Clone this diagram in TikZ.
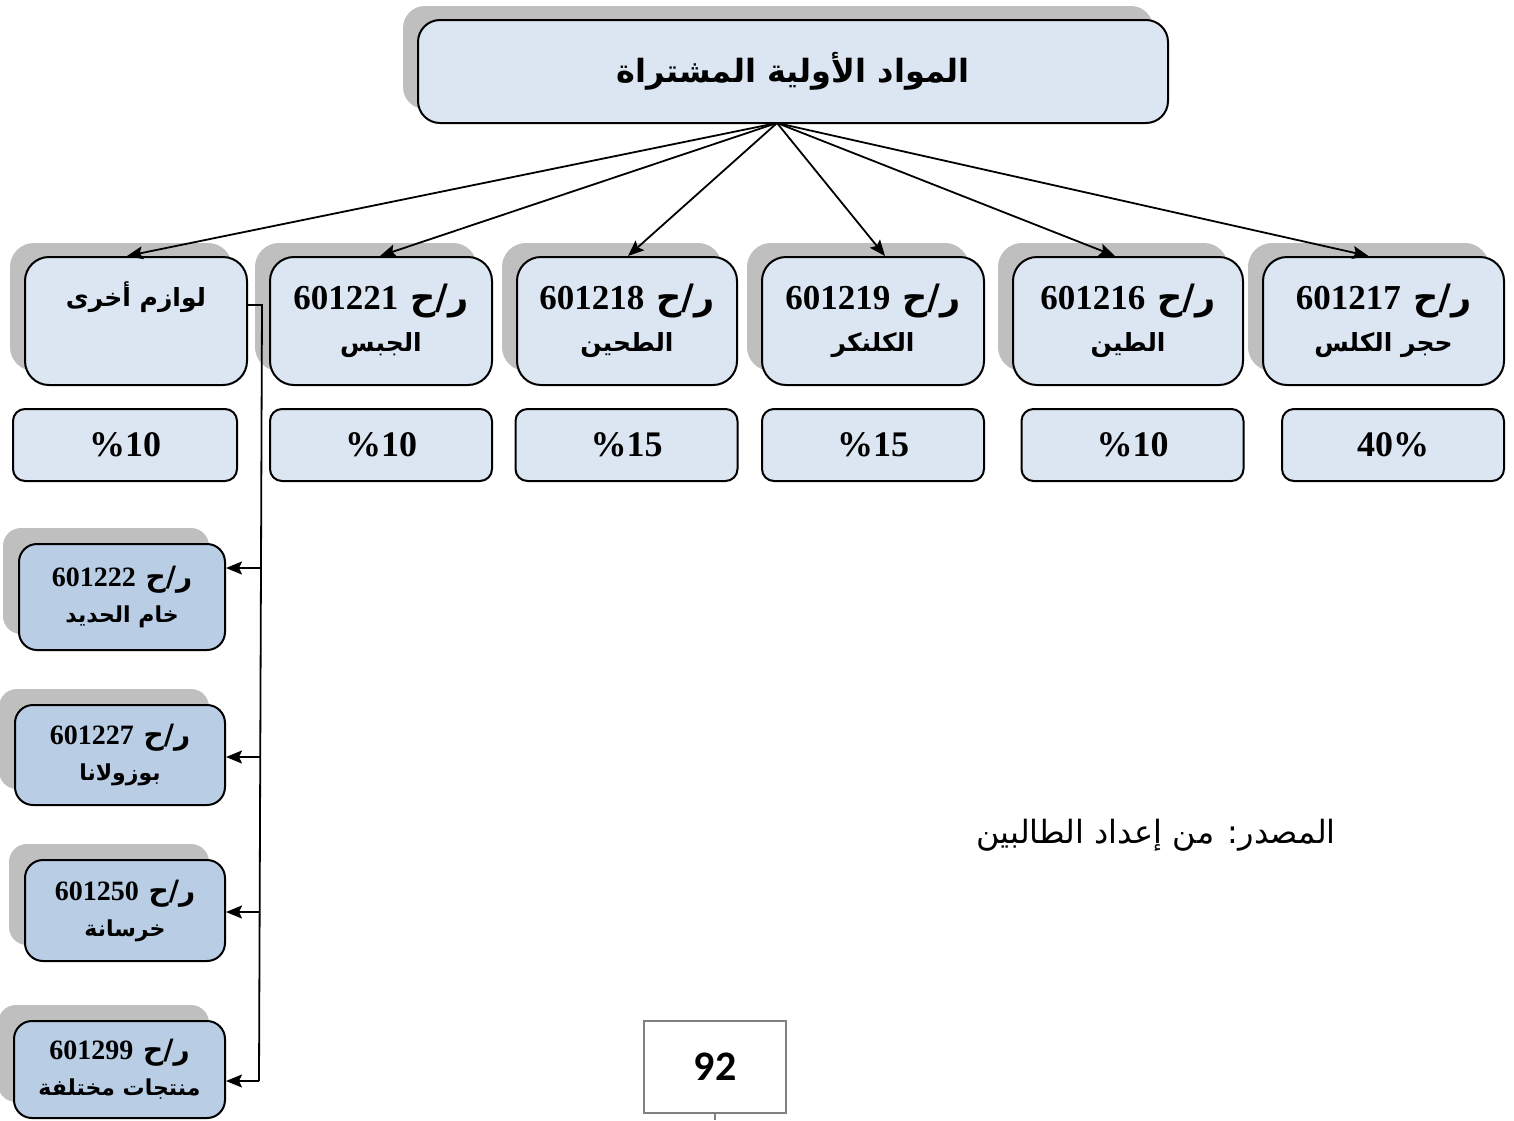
\documentclass[tikz,border=0pt]{standalone}
\usepackage{fontspec}
\TeXXeTstate=1
\newfontfamily\arabicfont[Script=Arabic]{DejaVu Sans}
\newfontfamily\numfont{Liberation Serif}
\newfontfamily\pagefont{Carlito}
\usetikzlibrary{arrows.meta,shadows}
\definecolor{lightfill}{HTML}{DCE6F2}
\definecolor{darkfill}{HTML}{B9CDE5}
\definecolor{shadowgray}{HTML}{BFBFBF}
\definecolor{pagegray}{HTML}{808080}
\newcommand{\ar}[1]{{\arabicfont\bfseries\beginR #1\endR}}
\newcommand{\code}[1]{{\arabicfont\bfseries\beginR ر/ح \beginL{\numfont\bfseries #1}\endL\endR}}
\newcommand{\rowar}[1]{{\fontsize{12.5}{21}\selectfont\ar{#1}}}
\newcommand{\subar}[1]{{\fontsize{11}{18}\selectfont\ar{#1}}}
\begin{document}
\begin{tikzpicture}[x=0.5pt,y=-0.5pt,
  shad/.style={drop shadow={shadow xshift=-7.5pt,shadow yshift=7pt,fill=shadowgray,opacity=1}},
  topbox/.style={draw,line width=1pt,fill=lightfill,rounded corners=11pt,inner sep=0pt,
     minimum width=375pt,minimum height=51.5pt,shad,font=\fontsize{16}{20}\selectfont},
  itembox/.style={draw,line width=1pt,fill=lightfill,rounded corners=12pt,inner sep=0pt,
     minimum height=64pt,align=center,shad,font=\fontsize{17.5}{21}\selectfont},
  pctbox/.style={draw,line width=1pt,fill=lightfill,rounded corners=6pt,inner sep=0pt,
     minimum height=36pt,minimum width=111pt,font=\numfont\bfseries\fontsize{18}{21}\selectfont},
  subbox/.style={draw,line width=1pt,fill=darkfill,rounded corners=9pt,inner sep=0pt,
     align=center,font=\fontsize{14}{18}\selectfont,
     drop shadow={shadow xshift=-8pt,shadow yshift=8pt,fill=shadowgray,opacity=1}},
  arr/.style={line width=0.9pt,-{Stealth[length=8pt,width=6.5pt,inset=1.5pt]}},
  conn/.style={line width=0.9pt}
]
\useasboundingbox (0,0) rectangle (1514,1120);

% top box
\node[topbox] (top) at (793,71.5) {\ar{المواد الأولية المشتراة}};

% first row
\node[itembox,minimum width=111pt] (b1) at (136,321) {{\fontsize{12.5}{21}\selectfont\ar{لوازم أخرى}}\\ \strut};
\node[itembox,minimum width=111pt] (b2) at (381,321) {\code{601221}\\ \rowar{الجبس}};
\node[itembox,minimum width=110pt] (b3) at (627,321) {\code{601218}\\ \rowar{الطحين}};
\node[itembox,minimum width=111pt] (b4) at (873,321) {\code{601219}\\ \rowar{الكلنكر}};
\node[itembox,minimum width=115pt] (b5) at (1128,321) {\code{601216}\\ \rowar{الطين}};
\node[itembox,minimum width=120.5pt] (b6) at (1383.5,321) {\code{601217}\\ \rowar{حجر الكلس}};

% percentages
\node[pctbox,minimum width=112pt] (p1) at (125,445) {\%10};
\node[pctbox] (p2) at (381,445) {\%10};
\node[pctbox] (p3) at (626.5,445) {\%15};
\node[pctbox] (p4) at (873,445) {\%15};
\node[pctbox] (p5) at (1132.5,445) {\%10};
\node[pctbox] (p6) at (1393,445) {40\%};

% fan arrows
\coordinate (fan) at (777,123);
\draw[arr] (fan) -- ([xshift=-4.5pt]b1.north);
\draw[arr] (fan) -- ([xshift=-0.5pt]b2.north);
\draw[arr] (fan) -- ([xshift=0.5pt]b3.north);
\draw[arr] (fan) -- ([xshift=6pt]b4.north);
\draw[arr] (fan) -- ([xshift=-6.5pt]b5.north);
\draw[arr] (fan) -- ([xshift=-7.5pt]b6.north);

% left column
\node[subbox,minimum width=103pt,minimum height=53pt] (l1) at (122,597) {\code{601222}\\ \subar{خام الحديد}};
\node[subbox,minimum width=105pt,minimum height=50pt] (l2) at (120,755) {\code{601227}\\ \subar{بوزولانا}};
\node[subbox,minimum width=100pt,minimum height=50.5pt] (l3) at (125,910.5) {\code{601250}\\ \subar{خرسانة}};
\node[subbox,minimum width=105.5pt,minimum height=48.5pt] (l4) at (119.5,1069.5) {\code{601299}\\ \subar{منتجات مختلفة}};

% trunk
\coordinate (tTop) at (262,305);
\coordinate (tBot) at (259,1081);
\coordinate (t1) at (261.2,568);
\coordinate (t2) at (260.6,757);
\coordinate (t3) at (260.0,912);
\draw[conn] (b1.east |- tTop) -- (tTop) -- (tBot);
\draw[arr] (tBot) -- (l4.east |- tBot);
\draw[arr] (t1) -- (l1.east |- t1);
\draw[arr] (t2) -- (l2.east |- t2);
\draw[arr] (t3) -- (l3.east |- t3);

% source
\node (src) at (1156,835) {\fontsize{16}{20}\selectfont{\arabicfont\beginR المصدر: من إعداد الطالبين\endR}};

% page number
\node[draw=pagegray,line width=0.8pt,minimum width=71pt,minimum height=46pt,inner sep=0pt,
  font=\pagefont\bfseries\fontsize{21}{24}\selectfont] (pg) at (715,1067) {92};
\coordinate (pgEnd) at (715,1120);
\draw[pagegray,line width=0.8pt] (pg.south) -- (pgEnd);
\end{tikzpicture}
\end{document}
